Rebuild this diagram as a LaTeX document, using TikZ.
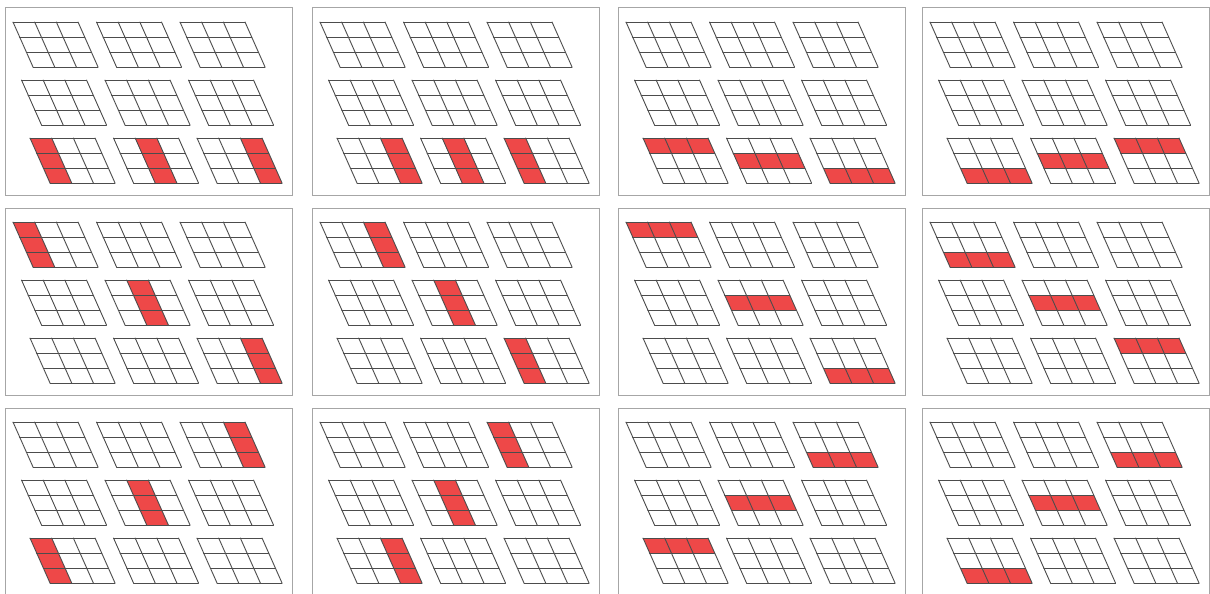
\documentclass[tikz,border=0pt]{standalone}
\usetikzlibrary{calc}

\definecolor{hitred}{RGB}{238,72,72}

\begin{document}
\begin{tikzpicture}[x=1pt,y=-1pt]

    \tikzstyle{panel}+=[
        draw=gray!70,
        line width = 1pt
    ]
    \tikzstyle{cellline}+=[
        draw=black!70,
        line width = 0.9pt,
        line cap=round
    ]
    \tikzstyle{hit}+=[
        fill=hitred,
        draw=none
    ]
    \tikzstyle{slab}+=[
        x={(21.67pt,0pt)},
        y={(6.67pt,-15pt)}
    ]

    \useasboundingbox (0,0) rectangle (1210,594);

    % ----------------------------------------------------------------------------
    % panel frames
    \foreach \px in {5,312,618,922}
        \foreach \py in {8,208,408}
            \draw[panel] (\px,\py) rectangle ++(287,187);

    % ----------------------------------------------------------------------------
    % highlighted columns: panel x / panel y / slab row / slab col / column
    \foreach \px/\py/\r/\c/\j in {
            5/8/2/0/1, 5/8/2/1/2, 5/8/2/2/3,
            312/8/2/0/3, 312/8/2/1/2, 312/8/2/2/1,
            5/208/0/0/1, 5/208/1/1/2, 5/208/2/2/3,
            312/208/0/0/3, 312/208/1/1/2, 312/208/2/2/1,
            5/408/0/2/3, 5/408/1/1/2, 5/408/2/0/1,
            312/408/0/2/1, 312/408/1/1/2, 312/408/2/0/3} {
        \begin{scope}[shift={(\px+8+8.5*\r+83.5*\c,\py+14+58*\r)},slab]
            \fill[hit] (\j-1,0) -- (\j,0) -- (\j,3) -- (\j-1,3) -- cycle;
        \end{scope}
    }

    % highlighted rows: panel x / panel y / slab row / slab col / row
    \foreach \px/\py/\r/\c/\i in {
            618/8/2/0/1, 618/8/2/1/2, 618/8/2/2/3,
            922/8/2/0/3, 922/8/2/1/2, 922/8/2/2/1,
            618/208/0/0/1, 618/208/1/1/2, 618/208/2/2/3,
            922/208/0/0/3, 922/208/1/1/2, 922/208/2/2/1,
            618/408/0/2/3, 618/408/1/1/2, 618/408/2/0/1,
            922/408/0/2/3, 922/408/1/1/2, 922/408/2/0/3} {
        \begin{scope}[shift={(\px+8+8.5*\r+83.5*\c,\py+14+58*\r)},slab]
            \fill[hit] (0,\i-1) -- (3,\i-1) -- (3,\i) -- (0,\i) -- cycle;
        \end{scope}
    }

    % ----------------------------------------------------------------------------
    % 3x3 slabs of 3x3 cells in every panel
    \foreach \px in {5,312,618,922}
        \foreach \py in {8,208,408}
            \foreach \r in {0,1,2}
                \foreach \c in {0,1,2} {
                    \begin{scope}[shift={(\px+8+8.5*\r+83.5*\c,\py+14+58*\r)},slab]
                        \foreach \k in {0,...,3} {
                            \draw[cellline] (\k,0) -- (\k,3);
                            \draw[cellline] (0,\k) -- (3,\k);
                        }
                    \end{scope}
                }

\end{tikzpicture}
\end{document}
